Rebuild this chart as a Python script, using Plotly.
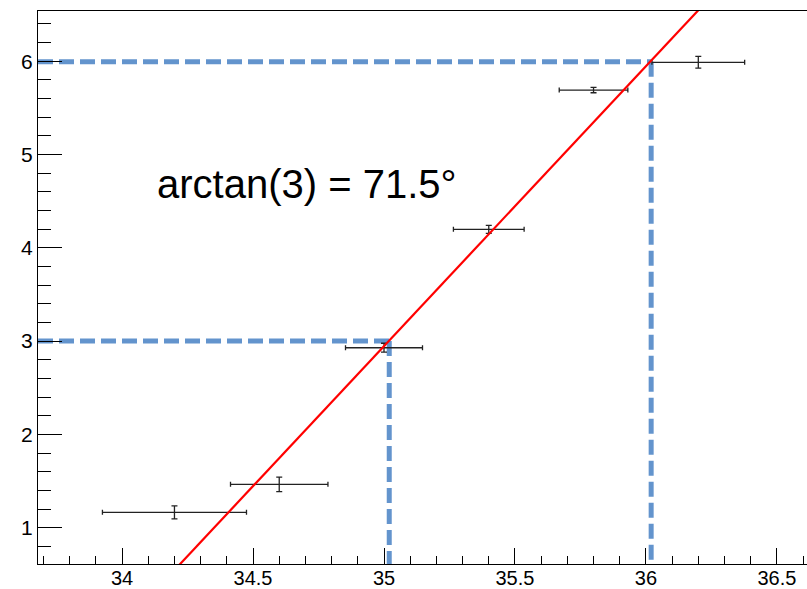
import plotly.graph_objects as go

# ---- data ----
x_vals = [34.2, 34.6, 35.0, 35.4, 35.8, 36.2]
y_vals = [1.165, 1.465, 2.929, 4.198, 5.691, 5.988]
x_errs = [0.275, 0.186, 0.147, 0.135, 0.131, 0.177]
y_errs = [0.07, 0.078, 0.048, 0.043, 0.029, 0.063]

# red line: slope 3 through the lower guide point
line_slope = 3.0
line_anchor_x = 35.018
line_anchor_y = 3.0

# blue dashed guide points
guide_x = [35.02, 36.02]
guide_y = [3.0, 5.995]

annotation_text = "arctan(3) = 71.5°"

x_range = [33.679, 36.615]
y_range = [0.611, 6.538]

BLUE = "#6394cd"
FONT = "Liberation Sans, Arial, Helvetica, sans-serif"

fig = go.Figure()

# horizontal guides
for gx, gy in zip(guide_x, guide_y):
    fig.add_trace(go.Scatter(
        x=[x_range[0], gx], y=[gy, gy], mode="lines",
        line=dict(color=BLUE, width=5, dash="15px,6px"),
        hoverinfo="skip", showlegend=False))
# vertical guides
for gx, gy in zip(guide_x, guide_y):
    fig.add_trace(go.Scatter(
        x=[gx, gx], y=[gy, y_range[0]], mode="lines",
        line=dict(color=BLUE, width=5, dash="15px,6px"),
        hoverinfo="skip", showlegend=False))

# data points with error bars
fig.add_trace(go.Scatter(
    x=x_vals, y=y_vals, mode="markers",
    marker=dict(size=0.1, color="black", opacity=0),
    error_x=dict(type="data", array=x_errs, visible=True,
                 color="#222222", thickness=1.3, width=2.5),
    error_y=dict(type="data", array=y_errs, visible=True,
                 color="#222222", thickness=1.3, width=3),
    showlegend=False))

# red line
lx = [x_range[0], x_range[1]]
ly = [line_anchor_y + line_slope * (v - line_anchor_x) for v in lx]
fig.add_trace(go.Scatter(
    x=lx, y=ly, mode="lines",
    line=dict(color="#ff0000", width=2.2),
    hoverinfo="skip", showlegend=False))

fig.add_annotation(
    x=34.125, y=4.685, xref="x", yref="y",
    text=annotation_text, showarrow=False,
    xanchor="left", yanchor="middle",
    font=dict(family=FONT, size=40, color="black"))

fig.update_layout(
    width=807, height=589,
    margin=dict(l=38, r=0, t=11, b=25, pad=0, autoexpand=False),
    paper_bgcolor="white", plot_bgcolor="white",
    font=dict(family=FONT, size=21, color="black"),
)

fig.update_xaxes(
    range=x_range, showgrid=False, zeroline=False, automargin=False,
    showline=True, linecolor="black", linewidth=1, mirror=True,
    ticks="inside", ticklen=16, tickcolor="black", tickwidth=1,
    tick0=34, dtick=0.5, ticklabelstandoff=-4,
    tickfont=dict(family=FONT, size=20, color="black"),
    minor=dict(ticks="inside", ticklen=8, tickcolor="black", tickwidth=1,
               dtick=0.1, tick0=34, showgrid=False),
)
fig.update_yaxes(
    range=y_range, showgrid=False, zeroline=False, automargin=False,
    showline=True, linecolor="black", linewidth=1, mirror=False,
    ticks="inside", ticklen=24, tickcolor="black", tickwidth=1,
    tick0=0, dtick=1,
    tickfont=dict(family=FONT, size=21, color="black"),
    minor=dict(ticks="inside", ticklen=13, tickcolor="black", tickwidth=1,
               dtick=0.2, tick0=0, showgrid=False),
)

fig.write_html("out.html")
